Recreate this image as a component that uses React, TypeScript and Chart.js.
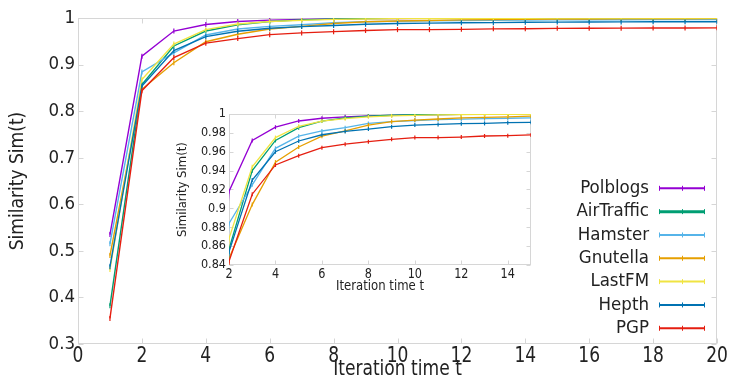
import React, { useEffect, useRef } from "react";
import { Chart, registerables } from "chart.js";

Chart.register(...registerables);

// ---------- data ----------
const iterations = [1, 2, 3, 4, 5, 6, 7, 8, 9, 10, 11, 12, 13, 14, 15, 16, 17, 18, 19, 20];

const polblogs = [0.535, 0.918, 0.972, 0.986, 0.9926, 0.9955, 0.997, 0.998, 0.9986, 0.999, 0.9993, 0.9995, 0.9996, 0.9997, 0.9998, 0.9998, 0.9999, 0.9999, 0.9999, 0.9999];
const airTraffic = [0.382, 0.857, 0.94, 0.972, 0.9855, 0.9925, 0.996, 0.9978, 0.9987, 0.9992, 0.9994, 0.9996, 0.9997, 0.9998, 0.9998, 0.9999, 0.9999, 0.9999, 0.9999, 0.9999];
const hamster = [0.515, 0.884, 0.925, 0.9636, 0.9765, 0.982, 0.9855, 0.99, 0.992, 0.993, 0.994, 0.9945, 0.995, 0.9955, 0.996, 0.9962, 0.9964, 0.9965, 0.9966, 0.9967];
const gnutella = [0.49, 0.847, 0.904, 0.949, 0.965, 0.9765, 0.982, 0.9883, 0.9919, 0.9936, 0.9947, 0.996, 0.9965, 0.997, 0.9978, 0.998, 0.9982, 0.9984, 0.9985, 0.9986];
const lastFM = [0.46, 0.868, 0.944, 0.975, 0.987, 0.9925, 0.995, 0.997, 0.998, 0.9986, 0.999, 0.9993, 0.9995, 0.9996, 0.9997, 0.9998, 0.9998, 0.9999, 0.9999, 0.9999];
const hepth = [0.466, 0.854, 0.93, 0.96, 0.9714, 0.978, 0.9815, 0.984, 0.9866, 0.9883, 0.989, 0.9897, 0.99, 0.9908, 0.9912, 0.9914, 0.9916, 0.9918, 0.992, 0.992];
const pgp = [0.355, 0.844, 0.915, 0.946, 0.9558, 0.9643, 0.968, 0.9707, 0.9732, 0.975, 0.975, 0.9756, 0.9767, 0.977, 0.9778, 0.978, 0.9782, 0.9784, 0.9786, 0.9788];

const seriesNames = ["Polblogs", "AirTraffic", "Hamster", "Gnutella", "LastFM", "Hepth", "PGP"];
const seriesValues = [polblogs, airTraffic, hamster, gnutella, lastFM, hepth, pgp];
const seriesColors = ["#9400D3", "#009E73", "#56B4E9", "#E69F00", "#F0E442", "#0072B2", "#E51E10"];
const legendLineWidths = [2, 3, 2, 2, 2, 2, 2];

const mainXTicks = [0, 2, 4, 6, 8, 10, 12, 14, 16, 18, 20];
const mainXTickLabels = ["0", "2", "4", "6", "8", "10", "12", "14", "16", "18", "20"];
const mainYTicks = [0.3, 0.4, 0.5, 0.6, 0.7, 0.8, 0.9, 1];
const mainYTickLabels = ["0.3", "0.4", "0.5", "0.6", "0.7", "0.8", "0.9", "1"];
const insetXTicks = [2, 4, 6, 8, 10, 12, 14];
const insetXTickLabels = ["2", "4", "6", "8", "10", "12", "14"];
const insetYTicks = [0.84, 0.86, 0.88, 0.9, 0.92, 0.94, 0.96, 0.98, 1];
const insetYTickLabels = ["0.84", "0.86", "0.88", "0.9", "0.92", "0.94", "0.96", "0.98", "1"];

const xTitle = "Iteration time t";
const yTitle = "Similarity Sim(t)";

// ---------- styling ----------
const FONT = "'DejaVu Sans Condensed', 'DejaVu Sans', sans-serif";
const TEXT = "#222";
const FRAME = "#d6d6d6";

const framePlugin = {
  id: "frame",
  beforeDatasetsDraw(chart: any, _args: any, opts: any) {
    const { ctx, chartArea: a, scales } = chart;
    const tl = opts.tickLength ?? 5;
    ctx.save();
    ctx.strokeStyle = FRAME;
    ctx.lineWidth = 1;
    const L = Math.round(a.left) + 0.5;
    const R = Math.round(a.right) - 0.5;
    const T = Math.round(a.top) + 0.5;
    const B = Math.round(a.bottom) - 0.5;
    ctx.strokeRect(L, T, R - L, B - T);
    ctx.beginPath();
    for (const t of scales.x.ticks) {
      const px = Math.round(scales.x.getPixelForValue(t.value)) + 0.5;
      ctx.moveTo(px, B); ctx.lineTo(px, B - tl);
      ctx.moveTo(px, T); ctx.lineTo(px, T + tl);
    }
    for (const t of scales.y.ticks) {
      const py = Math.round(scales.y.getPixelForValue(t.value)) + 0.5;
      ctx.moveTo(L, py); ctx.lineTo(L + tl, py);
      ctx.moveTo(R, py); ctx.lineTo(R - tl, py);
    }
    ctx.stroke();
    ctx.restore();
  },
};

// x tick labels and x title, drawn slightly stretched vertically like the reference
const xTextPlugin = {
  id: "xText",
  afterDraw(chart: any, _args: any, opts: any) {
    const { ctx, chartArea: a, scales } = chart;
    ctx.save();
    ctx.fillStyle = TEXT;
    ctx.textAlign = "center";
    ctx.textBaseline = "middle";
    const drawStretched = (text: string, x: number, y: number, size: number) => {
      ctx.save();
      ctx.translate(x, y);
      ctx.scale(1, opts.stretch);
      ctx.font = `${size}px ${FONT}`;
      ctx.fillText(text, 0, 0);
      ctx.restore();
    };
    opts.ticks.forEach((v: number, i: number) => {
      drawStretched(opts.labels[i], scales.x.getPixelForValue(v), a.bottom + opts.tickOffset, opts.tickSize);
    });
    drawStretched(xTitle, (a.left + a.right) / 2, a.bottom + opts.titleOffset, opts.titleSize);
    ctx.restore();
  },
};

const legendPlugin = {
  id: "rightLegend",
  afterDraw(chart: any) {
    const { ctx, chartArea: a } = chart;
    ctx.save();
    ctx.font = `18.5px ${FONT}`;
    ctx.textAlign = "right";
    ctx.textBaseline = "middle";
    const textRight = a.right - 68;
    const x1 = a.right - 58;
    const x2 = a.right - 13;
    seriesNames.forEach((name, i) => {
      const y = a.top + 170.3 + i * 23.33;
      ctx.fillStyle = TEXT;
      ctx.fillText(name, textRight, y);
      ctx.strokeStyle = seriesColors[i];
      ctx.lineWidth = legendLineWidths[i];
      ctx.beginPath();
      ctx.moveTo(x1, y); ctx.lineTo(x2, y);
      ctx.stroke();
      ctx.lineWidth = 1;
      ctx.beginPath();
      for (const x of [x1, (x1 + x2) / 2, x2]) {
        ctx.moveTo(Math.round(x) + 0.5, y - 2.5);
        ctx.lineTo(Math.round(x) + 0.5, y + 2.5);
      }
      ctx.stroke();
    });
    ctx.restore();
  },
};

function makeDatasets(pointRadius: number, lineWidth: number) {
  return seriesNames.map((name, i) => ({
    label: name,
    data: iterations.map((t, k) => ({ x: t, y: seriesValues[i][k] })),
    borderColor: seriesColors[i],
    backgroundColor: seriesColors[i],
    borderWidth: lineWidth,
    pointStyle: "line" as const,
    pointRotation: 90,
    pointRadius,
    pointBorderWidth: 1.2,
    tension: 0,
    order: seriesNames.length - i,
  }));
}

export default function App() {
  const mainRef = useRef<HTMLCanvasElement>(null);
  const insetRef = useRef<HTMLCanvasElement>(null);

  useEffect(() => {
    const main = new Chart(mainRef.current as HTMLCanvasElement, {
      type: "line",
      data: { datasets: makeDatasets(2.5, 1.4) as any },
      plugins: [framePlugin, legendPlugin, xTextPlugin],
      options: {
        animation: false,
        responsive: false,
        devicePixelRatio: 1,
        layout: { padding: { top: 18, right: 30, left: 0, bottom: 0 } },
        plugins: {
          legend: { display: false },
          tooltip: { enabled: false },
          frame: { tickLength: 5 },
          xText: {
            ticks: mainXTicks,
            labels: mainXTickLabels,
            tickSize: 19,
            titleSize: 19,
            tickOffset: 12.5,
            titleOffset: 25.5,
            stretch: 1.15,
          },
        } as any,
        scales: {
          x: {
            type: "linear",
            min: 0,
            max: 20,
            grid: { display: false, drawTicks: false },
            border: { display: false },
            afterBuildTicks: (s: any) => { s.ticks = mainXTicks.map((v) => ({ value: v })); },
            afterFit: (s: any) => { s.height = 41; },
            ticks: { display: false, autoSkip: false, maxRotation: 0 },
            title: { display: false },
          },
          y: {
            type: "linear",
            min: 0.3,
            max: 1,
            grid: { display: false, drawTicks: false },
            border: { display: false },
            afterBuildTicks: (s: any) => { s.ticks = mainYTicks.map((v) => ({ value: v })); },
            afterFit: (s: any) => { s.width = 78; },
            ticks: {
              padding: 3,
              color: TEXT,
              font: { family: FONT, size: 18.5 },
              callback: (v: any) => mainYTickLabels[mainYTicks.indexOf(v)] ?? "",
            },
            title: {
              display: true,
              text: yTitle,
              color: TEXT,
              font: { family: FONT, size: 19 },
              padding: { top: 7, bottom: 0 },
            },
          },
        },
      },
    });

    const inset = new Chart(insetRef.current as HTMLCanvasElement, {
      type: "line",
      data: { datasets: makeDatasets(2, 1.3) as any },
      plugins: [framePlugin, xTextPlugin],
      options: {
        animation: false,
        responsive: false,
        devicePixelRatio: 1,
        layout: { padding: { top: 14, right: 9, left: 0, bottom: 0 } },
        plugins: {
          legend: { display: false },
          tooltip: { enabled: false },
          frame: { tickLength: 4 },
          xText: {
            ticks: insetXTicks,
            labels: insetXTickLabels,
            tickSize: 12.5,
            titleSize: 13,
            tickOffset: 9,
            titleOffset: 21,
            stretch: 1.12,
          },
        } as any,
        scales: {
          x: {
            type: "linear",
            min: 2,
            max: 15,
            grid: { display: false, drawTicks: false },
            border: { display: false },
            afterBuildTicks: (s: any) => { s.ticks = insetXTicks.map((v) => ({ value: v })); },
            afterFit: (s: any) => { s.height = 35; },
            ticks: { display: false, autoSkip: false, maxRotation: 0 },
            title: { display: false },
          },
          y: {
            type: "linear",
            min: 0.84,
            max: 1,
            grid: { display: false, drawTicks: false },
            border: { display: false },
            afterBuildTicks: (s: any) => { s.ticks = insetYTicks.map((v) => ({ value: v })); },
            afterFit: (s: any) => { s.width = 59; },
            ticks: {
              padding: 3,
              color: TEXT,
              font: { family: FONT, size: 12.5 },
              callback: (v: any) => insetYTickLabels[insetYTicks.indexOf(v)] ?? "",
            },
            title: {
              display: true,
              text: yTitle,
              color: TEXT,
              font: { family: FONT, size: 13 },
              padding: { top: 5, bottom: 0 },
            },
          },
        },
      },
    });

    return () => {
      main.destroy();
      inset.destroy();
    };
  }, []);

  return (
    <div style={{ position: "fixed", left: 0, top: 0, width: 747, height: 385, background: "#fff" }}>
      <canvas
        ref={mainRef}
        width={747}
        height={385}
        style={{ position: "absolute", left: 0, top: 0, width: 747, height: 385 }}
      />
      <canvas
        ref={insetRef}
        width={370}
        height={200}
        style={{ position: "absolute", left: 170, top: 100, width: 370, height: 200 }}
      />
    </div>
  );
}
